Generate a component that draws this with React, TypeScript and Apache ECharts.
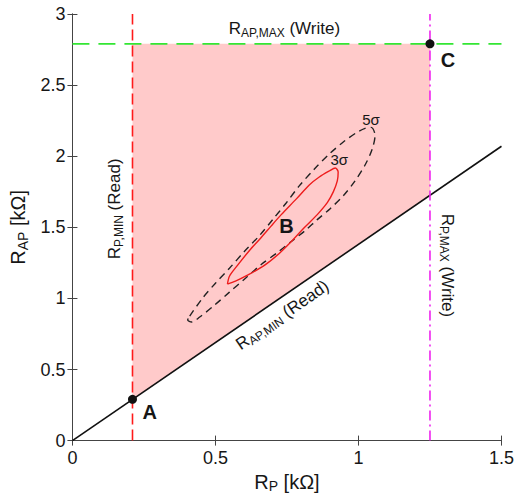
import { useEffect, useRef } from 'react';
import * as echarts from 'echarts';

const FONT = '"Liberation Sans", Arial, Helvetica, sans-serif';
const INK = '#161616';

// Axis ranges and ticks (kΩ)
const xTicks = [0, 0.5, 1, 1.5];
const yTicks = [0, 0.5, 1, 1.5, 2, 2.5, 3];

// Design limits (kΩ)
const rpMin = 0.21;
const rpMax = 1.25;
const rapMax = 2.79;

// R_AP,MIN (Read) boundary, end points
const rapMinLine = [
  [0, 0],
  [1.5, 2.07],
];

// Corner points of the operating window
const pointA = [0.21, 0.29];
const pointB = [0.748, 1.512];
const pointC = [1.25, 2.79];

// Operating window (shaded)
const windowVertices = [
  [0.21, 0.29],
  [0.21, 2.79],
  [1.25, 2.79],
  [1.25, 1.725],
];

// 3σ distribution contour
const contour3s = [
  [0.542, 1.1], [0.549, 1.156], [0.577, 1.232], [0.619, 1.337], [0.657, 1.421],
  [0.696, 1.512], [0.73, 1.589], [0.783, 1.7], [0.828, 1.798], [0.863, 1.854],
  [0.898, 1.896], [0.919, 1.917], [0.929, 1.889], [0.926, 1.826], [0.912, 1.749],
  [0.891, 1.673], [0.856, 1.589], [0.811, 1.498], [0.772, 1.414], [0.723, 1.316],
  [0.671, 1.232], [0.612, 1.163], [0.57, 1.121], [0.542, 1.1],
];

// 5σ distribution contour
const contour5s = [
  [0.41, 0.876], [0.455, 1.002], [0.5, 1.107], [0.549, 1.212], [0.601, 1.33],
  [0.654, 1.442], [0.703, 1.561], [0.748, 1.673], [0.793, 1.791], [0.846, 1.91],
  [0.898, 2.015], [0.95, 2.105], [0.995, 2.168], [1.023, 2.196], [1.044, 2.203],
  [1.058, 2.147], [1.048, 2.05], [1.023, 1.938], [0.988, 1.826], [0.947, 1.722],
  [0.901, 1.631], [0.856, 1.554], [0.814, 1.477], [0.765, 1.4], [0.717, 1.323],
  [0.661, 1.24], [0.605, 1.142], [0.549, 1.044], [0.493, 0.946], [0.445, 0.869],
  [0.417, 0.834], [0.403, 0.848], [0.41, 0.876],
];

const rich = {
  r: { fontSize: 17, lineHeight: 20, fontFamily: FONT, color: INK },
  s: { fontSize: 12, lineHeight: 11, verticalAlign: 'bottom', fontFamily: FONT, color: INK },
  b: { fontSize: 20, fontWeight: 'bold', fontFamily: FONT, color: INK },
  g: { fontSize: 15, fontFamily: FONT, color: INK },
  n: { fontSize: 20, lineHeight: 23, fontFamily: FONT, color: INK },
  ns: { fontSize: 14, lineHeight: 13, verticalAlign: 'bottom', fontFamily: FONT, color: INK },
};

// Text annotations: anchor in data units, rotation in degrees
const annotations = [
  { text: '{r|R}{s|AP,MAX}{r| (Write)}', at: [0.741, 2.895], rotate: 0 },
  { text: '{r|R}{s|P,MIN}{r| (Read)}', at: [0.148, 1.63], rotate: 90 },
  { text: '{r|R}{s|P,MAX}{r| (Write)}', at: [1.313, 1.232], rotate: -90 },
  { text: '{r|R}{s|AP,MIN}{r| (Read)}', at: [0.734, 0.883], rotate: 34.6 },
  { text: '{b|A}', at: [0.27, 0.199], rotate: 0 },
  { text: '{b|B}', at: pointB, rotate: 0 },
  { text: '{b|C}', at: [1.313, 2.678], rotate: 0 },
  { text: '{g|5σ}', at: [1.044, 2.258], rotate: 0 },
  { text: '{g|3σ}', at: [0.933, 1.98], rotate: 0 },
];

const frameColor = '#444';

function baseAxis(min: number, max: number, interval: number) {
  return {
    type: 'value',
    min,
    max,
    interval,
    splitLine: { show: false },
    axisLine: { show: true, lineStyle: { color: frameColor, width: 1 } },
    axisTick: { show: true, inside: true, length: 5, lineStyle: { color: frameColor } },
  };
}

export default function App() {
  const ref = useRef<HTMLDivElement>(null);

  useEffect(() => {
    if (!ref.current) return;
    const chart = echarts.init(ref.current, undefined, { renderer: 'svg' });

    const option = {
      animation: false,
      backgroundColor: '#fff',
      grid: { left: 72, top: 14, width: 431, height: 430, containLabel: false },
      xAxis: [
        {
          ...baseAxis(xTicks[0], xTicks[xTicks.length - 1], 0.5),
          position: 'bottom',
          axisLabel: { show: true, fontSize: 18, color: INK, fontFamily: FONT, margin: 8 },
          name: '{n|R}{ns|P}{n| [kΩ]}',
          nameLocation: 'middle',
          nameGap: 29,
          nameTextStyle: { rich },
        },
        {
          ...baseAxis(xTicks[0], xTicks[xTicks.length - 1], 0.5),
          position: 'top',
          axisLabel: { show: false },
        },
      ],
      yAxis: [
        {
          ...baseAxis(yTicks[0], yTicks[yTicks.length - 1], 0.5),
          position: 'left',
          axisLabel: { show: true, fontSize: 18, color: INK, fontFamily: FONT, margin: 7 },
          name: '{n|R}{ns|AP}{n| [kΩ]}',
          nameLocation: 'middle',
          nameGap: 39,
          nameRotate: 90,
          nameTextStyle: { rich },
        },
        {
          ...baseAxis(yTicks[0], yTicks[yTicks.length - 1], 0.5),
          position: 'right',
          axisLabel: { show: false },
        },
      ],
      series: [
        {
          type: 'custom',
          xAxisIndex: 0,
          yAxisIndex: 0,
          data: [windowVertices[0]],
          renderItem: (_params: any, api: any) => ({
            type: 'polygon',
            shape: { points: windowVertices.map((p) => api.coord(p)) },
            style: { fill: '#ffcaca' },
          }),
          silent: true,
          z: 1,
        },
        {
          type: 'line',
          data: contour5s,
          symbol: 'none',
          smooth: 0.3,
          lineStyle: { color: '#222', width: 1.4, type: [7, 5] },
          z: 2,
        },
        {
          type: 'line',
          data: contour3s,
          symbol: 'none',
          smooth: 0.3,
          lineStyle: { color: '#ee1c1c', width: 1.4 },
          z: 2,
        },
        {
          type: 'line',
          data: rapMinLine,
          symbol: 'none',
          lineStyle: { color: '#111', width: 1.6 },
          z: 3,
        },
        {
          type: 'line',
          data: [[rpMin, yTicks[0]], [rpMin, yTicks[yTicks.length - 1]]],
          symbol: 'none',
          lineStyle: { color: '#ff1a1a', width: 1.6, type: [11, 5] },
          z: 3,
        },
        {
          type: 'line',
          data: [[xTicks[0], rapMax], [xTicks[xTicks.length - 1], rapMax]],
          symbol: 'none',
          lineStyle: { color: '#33e633', width: 1.8, type: [17, 9] },
          z: 3,
        },
        {
          type: 'line',
          data: [[rpMax, yTicks[0]], [rpMax, yTicks[yTicks.length - 1]]],
          symbol: 'none',
          lineStyle: { color: '#ee22ee', width: 1.6, type: [10, 4, 2, 4] },
          z: 3,
        },
        {
          type: 'scatter',
          data: [pointA, pointC],
          symbol: 'circle',
          symbolSize: 9,
          itemStyle: { color: '#111', opacity: 1 },
          z: 4,
        },
        {
          type: 'scatter',
          symbolSize: 1,
          itemStyle: { color: 'rgba(0,0,0,0)', opacity: 1 },
          silent: true,
          z: 5,
          data: annotations.map((a) => ({
            value: a.at,
            label: {
              show: true,
              position: 'inside',
              align: 'center',
              verticalAlign: 'middle',
              rotate: a.rotate,
              formatter: a.text,
              rich,
            },
          })),
        },
      ],
    };

    chart.setOption(option as any);
    return () => chart.dispose();
  }, []);

  return (
    <div
      ref={ref}
      style={{ position: 'fixed', left: 0, top: 0, width: 517, height: 498, background: '#fff' }}
    />
  );
}
